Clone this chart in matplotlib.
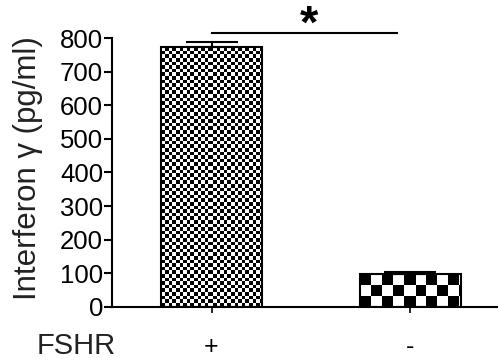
import matplotlib.pyplot as plt
import numpy as np

plt.rcParams['font.family'] = ['Liberation Sans', 'DejaVu Sans']

groups = ['+', '-']
means = [772, 98]
errors = [16, 5]
yticks = [0, 100, 200, 300, 400, 500, 600, 700, 800]
cell_sizes = [3.6, 10.8]  # checker square size in pixels for each bar


def checker_fill(ax, bar, cell_px):
    # paint a checkerboard exactly over the bar rectangle
    x0, y0 = bar.get_x(), bar.get_y()
    x1, y1 = x0 + bar.get_width(), y0 + bar.get_height()
    (px0, py0), (px1, py1) = ax.transData.transform([(x0, y0), (x1, y1)])
    w = max(int(round(px1 - px0)), 1)
    h = max(int(round(py1 - py0)), 1)
    cols = (np.arange(w) // cell_px).astype(int)
    rows = (np.arange(h) // cell_px).astype(int)
    grid = np.add.outer(rows, cols) % 2
    ax.imshow(grid, cmap='gray', vmin=0, vmax=1, extent=(x0, x1, y0, y1),
              origin='lower', interpolation='nearest', aspect='auto',
              zorder=2)


fig = plt.figure(figsize=(4.98, 3.62), dpi=100)
ax = fig.add_axes([0.225, 0.152, 0.775, 0.743])

x = np.arange(len(groups))
bars = ax.bar(x, means, width=0.51, facecolor='none', edgecolor='black',
              linewidth=1.5, zorder=3)
ax.errorbar(x, means, yerr=[[0, 0], errors], fmt='none', ecolor='black',
            elinewidth=1.5, capsize=19, capthick=1.5, zorder=4)

ax.set_xlim(-0.5, 1.44)
ax.set_ylim(0, 800)
for b, c in zip(bars, cell_sizes):
    checker_fill(ax, b, c)
ax.set_xlim(-0.5, 1.44)
ax.set_ylim(0, 800)

ax.spines['top'].set_visible(False)
ax.spines['right'].set_visible(False)
ax.spines['left'].set_linewidth(1.5)
ax.spines['bottom'].set_linewidth(1.5)

ax.set_yticks(yticks)
ax.set_xticks(x)
ax.set_xticklabels(groups)
ax.tick_params(axis='y', length=6, width=1.5, pad=0.5, labelsize=18.5)
ax.tick_params(axis='x', length=4, width=1.2, pad=16, labelsize=18)

fig.text(0.057, 0.535, 'Interferon γ (pg/ml)', fontsize=22.5, rotation=90,
         ha='center', va='center', color='#222222')
fig.text(0.074, 0.022, 'FSHR', fontsize=21, ha='left', va='baseline',
         color='#222222')

# significance bar
ax.plot([0, 0.93], [815, 815], color='black', lw=1.5, clip_on=False)
ax.text(0.49, 800, '*', fontsize=34, fontweight='bold', ha='center',
        va='baseline', clip_on=False)

fig.savefig('out.png', dpi=100)
